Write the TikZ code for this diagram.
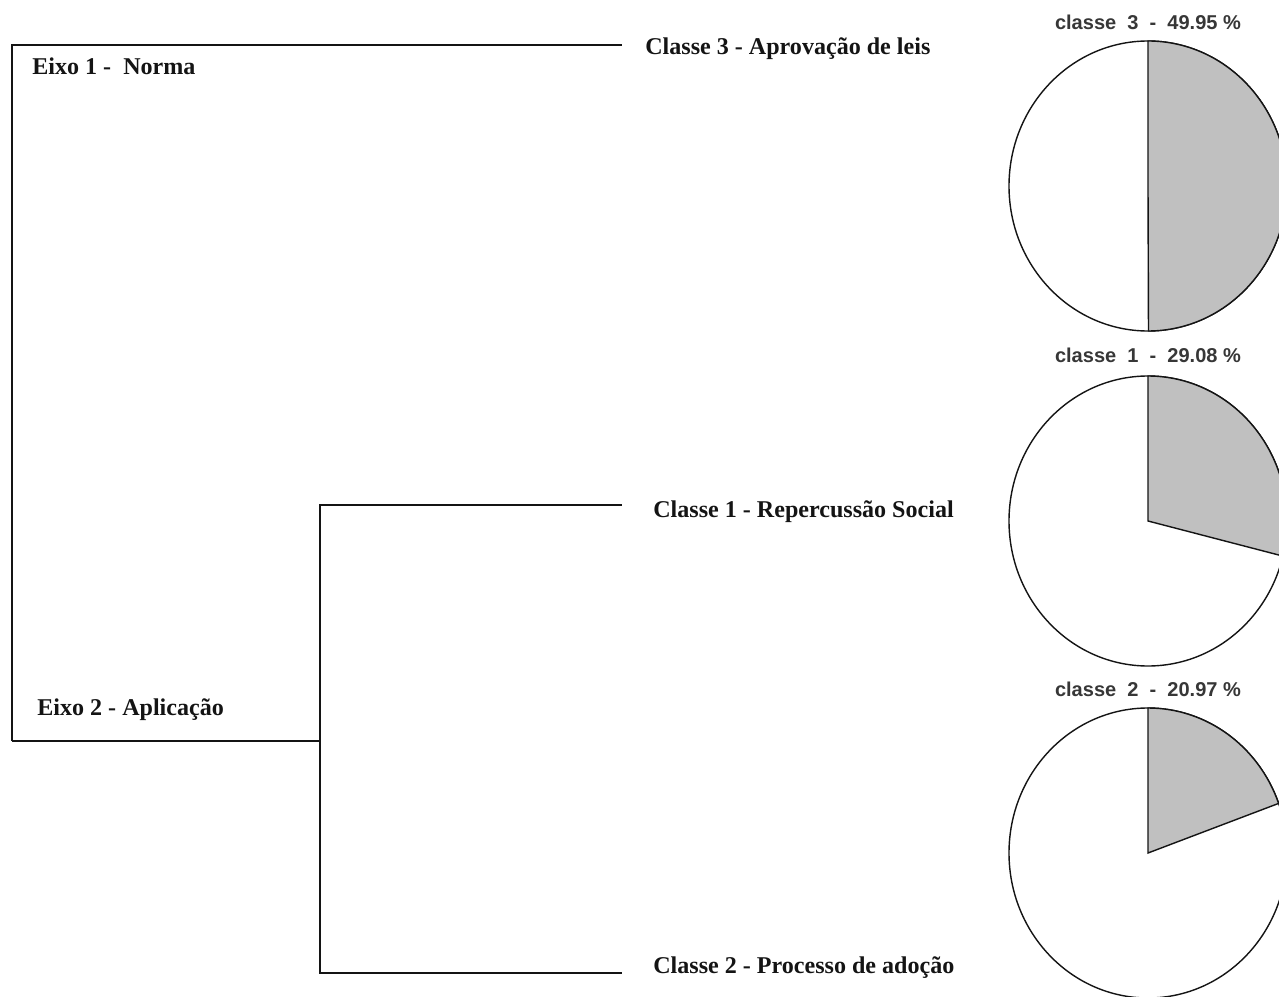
\documentclass[tikz,border=0pt]{standalone}
\usepackage{fontspec}
\setmainfont{Liberation Serif}
\newfontfamily\piefont{Liberation Sans}
\usetikzlibrary{positioning}
\definecolor{inkblack}{RGB}{20,20,20}
\definecolor{labelgray}{RGB}{55,55,55}
\definecolor{slicegray}{RGB}{192,192,192}

\begin{document}
\begin{tikzpicture}[x=0.02cm,y=0.02cm,
  every node/.style={inner sep=0pt,text=inkblack},
  branch/.style={draw=inkblack,line width=1.1pt},
  eixo/.style={anchor=base west,font=\fontsize{13.7}{16}\selectfont\bfseries},
  classe/.style={anchor=base west,font=\fontsize{13.7}{16}\selectfont\bfseries},
  pietitle/.style={anchor=base,text=labelgray,font=\piefont\fontsize{11.4}{13}\selectfont\bfseries},
  slice/.style={draw=inkblack,fill=slicegray,line width=.8pt},
  disc/.style={draw=inkblack,fill=white,line width=.8pt}]
  \path[use as bounding box,clip] (0,0) rectangle (1279,-997);
  % dendrogram
  \coordinate (root) at (12,-741);
  \coordinate (j2) at (320,-741);
  \coordinate (e3) at (622,-45);
  \coordinate (e1) at (622,-505);
  \coordinate (e2) at (622,-973);
  \node[eixo] (eixo1) at (32,-75) {Eixo 1 -\ \ Norma};
  \node[eixo] (eixo2) at (37,-715) {Eixo 2 - Aplicação};
  \node[classe] (c3) at (645,-55) {Classe 3 - Aprovação de leis};
  \node[classe] (c1) at (653,-517) {Classe 1 - Repercussão Social};
  \node[classe] (c2) at (653,-973) {Classe 2 - Processo de adoção};
  \draw[branch] (root) |- (e3);
  \draw[branch] (root) -- (j2);
  \draw[branch] (j2) |- (e1);
  \draw[branch] (j2) |- (e2);
  % pies
  \begin{scope}[shift={(1148,-186)}]
    \node[pietitle] (t3) at (0,156) {classe\ \ 3\ \ -\ \ 49.95 \%};
    \draw[disc] (0,0) ellipse [x radius=139,y radius=145];
    \filldraw[slice] (0,0) -- (0,145) arc[start angle=90,end angle=-89.8,x radius=139,y radius=145] -- cycle;
  \end{scope}
  \begin{scope}[shift={(1148,-521)}]
    \node[pietitle] (t1) at (0,159) {classe\ \ 1\ \ -\ \ 29.08 \%};
    \draw[disc] (0,0) ellipse [x radius=139,y radius=145];
    \filldraw[slice] (0,0) -- (0,145) arc[start angle=90,end angle=-14,x radius=139,y radius=145] -- cycle;
  \end{scope}
  \begin{scope}[shift={(1148,-853)}]
    \node[pietitle] (t2) at (0,157) {classe\ \ 2\ \ -\ \ 20.97 \%};
    \draw[disc] (0,0) ellipse [x radius=139,y radius=145];
    \filldraw[slice] (0,0) -- (0,145) arc[start angle=90,end angle=20,x radius=139,y radius=145] -- cycle;
  \end{scope}
\end{tikzpicture}
\end{document}
